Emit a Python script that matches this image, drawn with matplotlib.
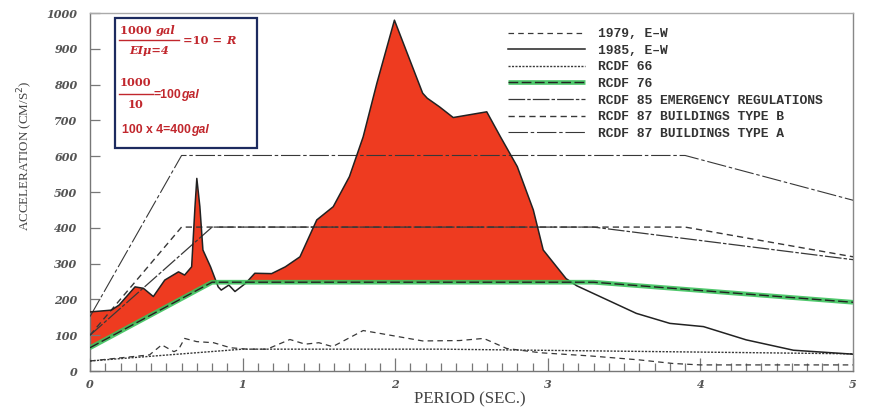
import numpy as np
import matplotlib
matplotlib.use("Agg")
import matplotlib.pyplot as plt
from matplotlib.lines import Line2D
from matplotlib.patches import Rectangle
from matplotlib.text import Annotation
from matplotlib.font_manager import FontProperties

plt.rcParams['lines.scale_dashes'] = False

# ---------------- data ----------------
x_1979 = [0, 0.39, 0.47, 0.55, 0.58, 0.62, 0.70, 0.81, 0.92, 1.03, 1.16, 1.31, 1.41, 1.50, 1.59,
          1.79, 1.90, 2.18, 2.42, 2.58, 2.73, 2.95, 3.28, 3.60, 3.82, 4.0, 5.0]
y_1979 = [28, 45, 73, 54, 60, 91, 82, 79, 65, 61, 61, 88, 75, 79, 68,
          113, 105, 84, 85, 91, 63, 51, 42, 31, 21, 17, 17]

x_1985 = [0, 0.14, 0.19, 0.295, 0.35, 0.415, 0.49, 0.58, 0.62, 0.666, 0.688, 0.70, 0.72, 0.74,
          0.79, 0.84, 0.86, 0.91, 0.95, 1.02, 1.08, 1.19, 1.28, 1.376, 1.486, 1.594, 1.70, 1.79,
          1.88, 1.995, 2.18, 2.21, 2.29, 2.38, 2.60, 2.69, 2.80, 2.905, 2.97, 3.12, 3.19, 3.58,
          3.80, 4.02, 4.30, 4.61, 5.0]
y_1985 = [165, 170, 184, 235, 231, 208, 254, 277, 268, 291, 459, 538, 459, 338,
          291, 235, 226, 240, 222, 245, 273, 272, 291, 319, 422, 459, 543, 654,
          804, 980, 776, 762, 738, 708, 724, 654, 571, 450, 338, 258, 238, 161,
          133, 124, 87, 58, 47]

x_rcdf66 = [0, 1.0, 2.3, 5.0]
y_rcdf66 = [28, 61, 61, 48]

x_rcdf76 = [0, 0.8, 3.3, 5.0]
y_rcdf76 = [65, 248, 248, 192]

x_rcdf85 = [0, 0.8, 3.3, 5.0]
y_rcdf85 = [100, 402, 402, 311]

x_rcdf87b = [0, 0.6, 3.9, 5.0]
y_rcdf87b = [100, 402, 402, 319]

x_rcdf87a = [0, 0.6, 3.9, 5.0]
y_rcdf87a = [152, 602, 602, 477]

labels = ["1979, E\u2013W", "1985, E\u2013W", "RCDF 66", "RCDF 76",
          "RCDF 85 EMERGENCY REGULATIONS", "RCDF 87 BUILDINGS TYPE B",
          "RCDF 87 BUILDINGS TYPE A"]

xticks = [0, 1, 2, 3, 4, 5]
yticks = [0, 100, 200, 300, 400, 500, 600, 700, 800, 900, 1000]

# ---------------- figure ----------------
W, H = 871, 412
fig = plt.figure(figsize=(W / 100, H / 100), dpi=100)
fig.patch.set_facecolor('white')
ax = fig.add_axes([90 / W, 1 - 371 / H, 763 / W, 358 / H])
ax.set_xlim(0, 5)
ax.set_ylim(0, 1000)

def fx(px):
    return px / W

def fy(py):
    return 1 - py / H

lc = '#383838'
red = '#ee3b20'
green = '#3cc25c'

# red fill between 1985 spectrum and RCDF 76
xg = np.union1d(x_1985, x_rcdf76)
s85 = np.interp(xg, x_1985, y_1985)
s76 = np.interp(xg, x_rcdf76, y_rcdf76)
ax.fill_between(xg, s76, s85, where=s85 >= s76, interpolate=True, color=red,
                lw=0, zorder=1)

l79, = ax.plot(x_1979, y_1979, color=lc, lw=0.9, dashes=(4, 3), zorder=3)
l85, = ax.plot(x_1985, y_1985, color='#222222', lw=1.1, zorder=4)
l66, = ax.plot(x_rcdf66, y_rcdf66, color=lc, lw=1.0, dashes=(1.5, 1), zorder=3)
g76, = ax.plot(x_rcdf76, y_rcdf76, color=green, lw=3.4, alpha=0.9,
               solid_capstyle='butt', zorder=5)
d76, = ax.plot(x_rcdf76, y_rcdf76, color='#222222', lw=1.0, dashes=(7, 2.5), zorder=6)
le85, = ax.plot(x_rcdf85, y_rcdf85, color=lc, lw=0.9, dashes=(12, 1.5, 2.5, 1.5), zorder=3)
l87b, = ax.plot(x_rcdf87b, y_rcdf87b, color=lc, lw=1.0, dashes=(4.5, 3), zorder=3)
l87a, = ax.plot(x_rcdf87a, y_rcdf87a, color=lc, lw=0.8, dashes=(14, 2, 2.5, 2), zorder=3)

# legend
h76g = Line2D([], [], color=green, lw=3.4, alpha=0.9, solid_capstyle='butt')
h76d = Line2D([], [], color='#222222', lw=1.0, dashes=(7, 2.5))
handles = [l79, l85, l66, (h76g, h76d), le85, l87b, l87a]
leg = ax.legend(handles, labels, loc='upper left',
                bbox_to_anchor=((508 - 90) / 763, (371 - 28) / 358),
                frameon=False, borderpad=0, borderaxespad=0,
                handlelength=5.9, handletextpad=1.0, labelspacing=0.345,
                prop=FontProperties(family='Liberation Mono', weight='bold', size=9.4))
for t in leg.get_texts():
    t.set_color('#333333')

# spines & ticks
for side, col in [('left', '#777777'), ('bottom', '#777777'), ('top', '#aaaaaa'), ('right', '#888888')]:
    ax.spines[side].set_color(col)
    ax.spines[side].set_linewidth(1.0)

tickfont = dict(family='DejaVu Serif', weight='bold', style='italic', size=8)
ax.set_xticks(xticks)
ax.set_xticklabels([str(v) for v in xticks], fontdict=tickfont, color='#555555')
ax.set_xticks(np.arange(0.1, 5.0, 0.1), minor=True)
ax.set_yticks(yticks)
ax.set_yticklabels([str(v) for v in yticks], fontdict=tickfont, color='#555555')
ax.tick_params(axis='x', which='major', direction='in', length=9.4, width=0.9,
               color='#777777', pad=6)
ax.tick_params(axis='x', which='minor', direction='in', length=5.8, width=0.9,
               color='#777777')
ax.tick_params(axis='y', which='major', direction='in', length=7.2, width=0.9,
               color='#777777', pad=9)

fig.text(fx(470), fy(399), "PERIOD (SEC.)", family='Liberation Serif', size=12.2,
         color='#444444', ha='center', va='center')
fig.text(fx(25), fy(156), "ACCELERATION (CM/S$^2$)", family='Liberation Serif', size=9.4,
         color='#444444', ha='center', va='center', rotation=90)

# annotation box
fig.patches.append(Rectangle((fx(115), fy(148)), (257 - 115) / W, (148 - 18) / H,
                             transform=fig.transFigure, facecolor='white',
                             edgecolor='#1d2b5f', lw=1.6, zorder=10))
rc = '#c1272d'
ser = dict(family='DejaVu Serif', weight='bold', color=rc, size=8.2, zorder=11)
sans = dict(family='Liberation Sans', weight='bold', color=rc, size=8.8, zorder=11)


def chain(prev, s, style):
    a = Annotation(s, xy=(1, 0), xycoords=prev, va='bottom', ha='left',
                   fontstyle='italic', annotation_clip=False, **style)
    fig.add_artist(a)
    return a


t1 = fig.text(fx(120), fy(30), "1000 ", ha='left', va='center', **ser)
chain(t1, "gal", ser)
fig.add_artist(Line2D([fx(119), fx(179)], [fy(39.5), fy(39.5)], color=rc, lw=1.0,
                      transform=fig.transFigure, zorder=11))
fig.text(fx(149), fy(51), "EI\u03bc=4", style='italic', ha='center', va='center', **ser)
t2 = fig.text(fx(183), fy(41), "=10 = ", ha='left', va='center', **ser)
chain(t2, "R", ser)

fig.text(fx(120), fy(83), "1000", ha='left', va='center', **ser)
fig.add_artist(Line2D([fx(119), fx(153)], [fy(93.5), fy(93.5)], color=rc, lw=1.0,
                      transform=fig.transFigure, zorder=11))
fig.text(fx(136), fy(105), "10", ha='center', va='center', **ser)
t3 = fig.text(fx(153), fy(95), "=100", ha='left', va='center', **sans)
chain(t3, "gal", sans)

t4 = fig.text(fx(122), fy(130), "100 x 4=400", ha='left', va='center', **sans)
chain(t4, "gal", sans)

fig.savefig("out.png", dpi=100, facecolor='white')
